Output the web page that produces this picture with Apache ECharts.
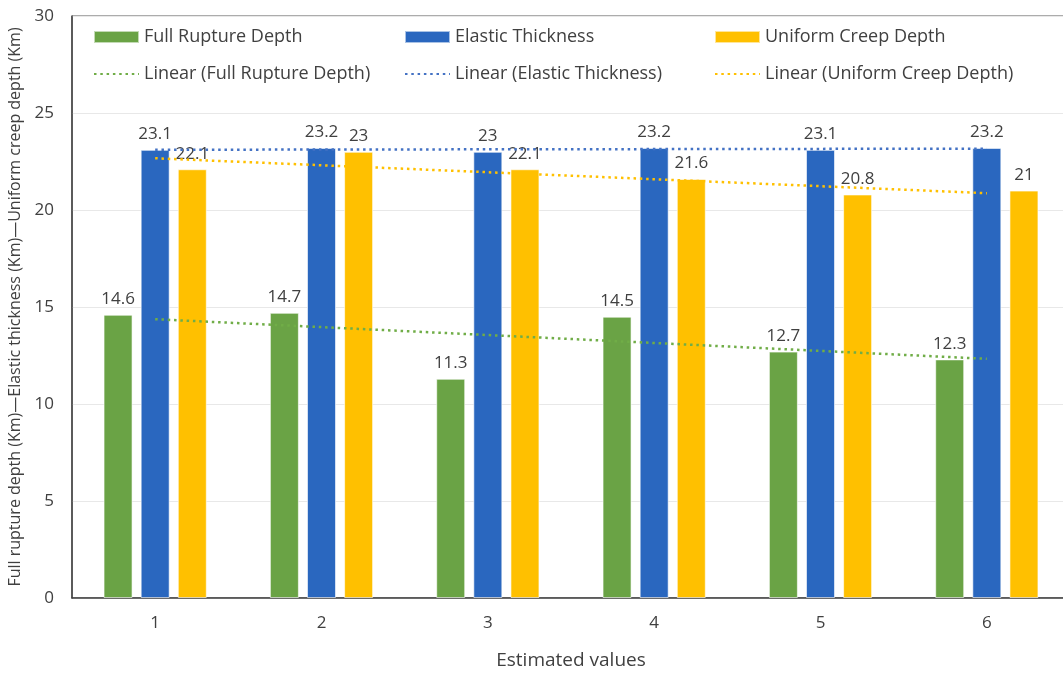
<!DOCTYPE html>
<html>
<head>
<meta charset="utf-8">
<title>Estimated depths</title>
<script src="https://cdn.jsdelivr.net/npm/echarts@6/dist/echarts.min.js"></script>
<style>
  html, body { margin: 0; padding: 0; background: #fff; }
  #chart { width: 1063px; height: 674px; }
</style>
</head>
<body>
<div id="chart"></div>
<script>
// Categories on the x axis
const categories = ['1', '2', '3', '4', '5', '6'];

// Bar values (km)
const fullRupture = [14.6, 14.7, 11.3, 14.5, 12.7, 12.3];
const elasticThickness = [23.1, 23.2, 23, 23.2, 23.1, 23.2];
const uniformCreep = [22.1, 23, 22.1, 21.6, 20.8, 21];

// Y axis range
const yMin = 0, yMax = 30, yStep = 5;

const FONT = '"Open Sans", "Noto Sans", sans-serif';
const TEXT = '#404040';
const COLORS = { green: '#6AA345', blue: '#2A67BF', yellow: '#FFC000' };
const TREND = { green: '#70AD47', blue: '#4472C4', yellow: '#FFC000' };

// Least-squares linear trendline over category positions 1..n
function linearTrend(values) {
  const n = values.length;
  const xs = values.map((_, i) => i + 1);
  const mx = xs.reduce((a, b) => a + b, 0) / n;
  const my = values.reduce((a, b) => a + b, 0) / n;
  let sxy = 0, sxx = 0;
  for (let i = 0; i < n; i++) {
    sxy += (xs[i] - mx) * (values[i] - my);
    sxx += (xs[i] - mx) * (xs[i] - mx);
  }
  const slope = sxy / sxx;
  return xs.map(x => +(my + slope * (x - mx)).toFixed(4));
}

function barSeries(name, data, color) {
  return {
    name, type: 'bar', data,
    barWidth: 29, barGap: '28%',
    itemStyle: { color, borderColor: 'rgba(255,255,255,0.6)', borderWidth: 1 },
    label: { show: true, position: 'top', distance: 7, color: TEXT, fontSize: 17, fontFamily: FONT },
    z: 2
  };
}

function trendSeries(name, data, color) {
  return {
    name, type: 'line', data, symbol: 'none', silent: true,
    lineStyle: { color, width: 2.5, type: [2.5, 3.8] },
    itemStyle: { color },
    z: 5
  };
}

function legendAt(name, left, top, isBar) {
  const item = isBar
    ? { name, icon: 'rect' }
    : { name, itemStyle: { opacity: 0 } };
  return {
    data: [item],
    left, top, padding: 0,
    itemWidth: 45, itemHeight: 12, itemGap: 5,
    textStyle: { color: TEXT, fontSize: 18, fontFamily: FONT },
    selectedMode: false
  };
}

const chart = echarts.init(document.getElementById('chart'), null, { renderer: 'canvas' });

chart.setOption({
  backgroundColor: '#ffffff',
  animation: false,
  grid: {
    left: 72, top: 16, width: 998, bottom: 76,
    show: true, borderColor: '#595959', borderWidth: 1,
    containLabel: false, outerBoundsMode: 'none'
  },
  legend: [
    legendAt('Full Rupture Depth', 93, 28, true),
    legendAt('Elastic Thickness', 404, 28, true),
    legendAt('Uniform Creep Depth', 714, 28, true),
    legendAt('Linear (Full Rupture Depth)', 93, 65, false),
    legendAt('Linear (Elastic Thickness)', 404, 65, false),
    legendAt('Linear (Uniform Creep Depth)', 714, 65, false)
  ],
  xAxis: {
    type: 'category',
    data: categories,
    name: 'Estimated values',
    nameLocation: 'middle',
    nameGap: 53,
    nameTextStyle: { color: TEXT, fontSize: 19, fontFamily: FONT },
    axisLine: { show: true, lineStyle: { color: '#404040', width: 1.5 } },
    axisTick: { show: false },
    axisLabel: { color: TEXT, fontSize: 17, fontFamily: FONT, margin: 17 }
  },
  yAxis: {
    type: 'value',
    min: yMin, max: yMax, interval: yStep,
    name: 'Full rupture depth (Km)\u2014Elastic thickness (Km)\u2014Uniform creep depth (Km)',
    nameLocation: 'middle',
    nameGap: 49,
    nameTextStyle: { color: TEXT, fontSize: 16, fontFamily: FONT },
    axisLine: { show: true, lineStyle: { color: '#404040', width: 1.5 } },
    axisTick: { show: false },
    axisLabel: { color: TEXT, fontSize: 17, fontFamily: FONT, margin: 18 },
    splitLine: { lineStyle: { color: '#e8e8e8', width: 1 } }
  },
  series: [
    barSeries('Full Rupture Depth', fullRupture, COLORS.green),
    barSeries('Elastic Thickness', elasticThickness, COLORS.blue),
    barSeries('Uniform Creep Depth', uniformCreep, COLORS.yellow),
    trendSeries('Linear (Full Rupture Depth)', linearTrend(fullRupture), TREND.green),
    trendSeries('Linear (Elastic Thickness)', linearTrend(elasticThickness), TREND.blue),
    trendSeries('Linear (Uniform Creep Depth)', linearTrend(uniformCreep), TREND.yellow)
  ]
});
</script>
</body>
</html>
